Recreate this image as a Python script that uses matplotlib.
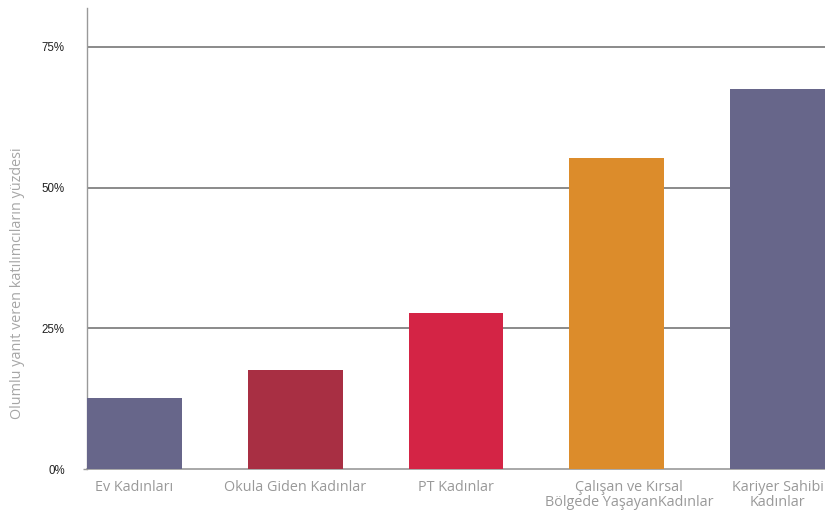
import matplotlib
matplotlib.use("Agg")
import matplotlib.pyplot as plt
from matplotlib.ticker import FixedLocator
from matplotlib.transforms import ScaledTranslation

categories = [
    "Ev Kadınları",
    "Okula Giden Kadınlar",
    "PT Kadınlar",
    "Çalışan ve Kırsal\nBölgede YaşayanKadınlar",
    "Kariyer Sahibi\nKadınlar",
]
values = [12.6, 17.6, 27.7, 55.3, 67.5]
colors = ["#67668a", "#a82f43", "#d42445", "#dc8c2b", "#67668a"]
yticks = [0, 25, 50, 75]
ytick_labels = ["0%", "25%", "50%", "75%"]
ylabel = "Olumlu yanıt veren katılımcıların yüzdesi"

fig = plt.figure(figsize=(8.25, 5.13), dpi=100)
ax = fig.add_axes([87 / 825, 1 - 469 / 513, (825 - 87) / 825, (469 - 8) / 513])

width = 0.59
x = list(range(len(categories)))
ax.bar(x, values, width=width, color=colors, zorder=3)

ax.set_xlim(-width / 2, len(categories) - 1 + width / 2)
ax.set_ylim(0, 81.9)

ax.yaxis.set_major_locator(FixedLocator(yticks))
ax.set_yticklabels(ytick_labels, fontsize=8.3, color="#222222", family="Liberation Sans")
ax.tick_params(axis="y", length=3, width=1, color="#999999", pad=13)
# only the baseline keeps a small tick stub
for tick in ax.yaxis.get_major_ticks()[1:]:
    tick.tick1line.set_visible(False)
for y in yticks[1:]:
    ax.axhline(y, color="#8a8a8a", lw=1.4, zorder=1)

ax.set_xticks(x)
ax.set_xticklabels(categories, fontsize=10.4, color="#999999", family="Open Sans",
                   linespacing=0.95)
ax.tick_params(axis="x", length=0, pad=8)
# the two-line rural label sits slightly right of its bar
shift = ScaledTranslation(12 / 100, 0, fig.dpi_scale_trans)
lbl = ax.get_xticklabels()[3]
lbl.set_transform(lbl.get_transform() + shift)

for side in ["top", "right"]:
    ax.spines[side].set_visible(False)
ax.spines["left"].set_color("#999999")
ax.spines["bottom"].set_color("#999999")
ax.spines["left"].set_linewidth(1)
ax.spines["bottom"].set_linewidth(1.2)

fig.text(18 / 825, 1 - 283 / 513, ylabel, rotation=90, ha="center", va="center",
         fontsize=10.4, color="#a6a6a6", family="Open Sans")

fig.savefig("out.png", dpi=100, facecolor="white")
